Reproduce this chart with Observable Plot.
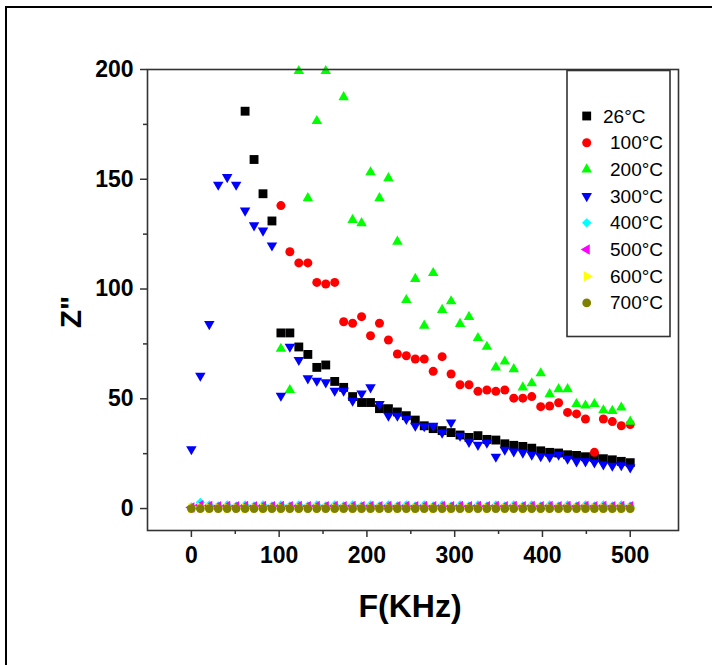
<!DOCTYPE html>
<html><head><meta charset="utf-8">
<script src="https://cdn.jsdelivr.net/npm/d3@7"></script>
<script src="https://cdn.jsdelivr.net/npm/@observablehq/plot@0.6"></script>
<style>
body{margin:0;background:#fff;}
#wrap{position:relative;width:712px;height:665px;overflow:hidden;background:#fff;}
#frame{position:absolute;left:5px;top:6px;width:800px;height:800px;border-left:2px solid #000;border-top:2px solid #000;pointer-events:none;}
#wrap svg{position:absolute;left:0;top:0;background:transparent;}
</style></head><body><div id="wrap"></div>
<script>
// Frequency grid (kHz)
const freq = [0,10.2,20.4,30.6,40.8,51,61.2,71.4,81.6,91.8,102,112.2,122.4,132.7,142.9,153.1,163.3,173.5,183.7,193.9,204.1,214.3,224.5,234.7,244.9,255.1,265.3,275.5,285.7,295.9,306.1,316.3,326.5,336.7,346.9,357.1,367.3,377.6,387.8,398,408.2,418.4,428.6,438.8,449,459.2,469.4,479.6,489.8,500];

// Z'' values per temperature (null = not shown)
const z26 = [null,null,null,null,null,null,181,159,143.4,131,80,80,73.6,70.2,64.3,65.4,57.9,55.2,51,48.3,48.3,45.5,45.5,44,42.3,40.3,37.7,36.4,35.5,34.6,33.5,32.4,33.2,31.5,31.2,29.5,28.8,28.3,27.5,26.3,25.6,25.3,24.5,24.2,23.6,23.2,22.7,22.2,21.5,20.9];
const z100 = [null,null,null,null,null,null,null,null,null,null,138,117,111.9,111.9,103,102.3,103,85.1,84.4,87.4,78.7,84.4,76.8,70.4,69.6,68.1,68.1,62.5,69.2,61.3,56.4,56.4,53.4,54,53.4,54,50.3,50.3,51,46.4,46.7,48.2,43.8,43.1,40.8,25.6,40.8,39.6,37.7,38.3];
const z200 = [null,null,null,null,null,null,null,null,null,null,72.8,54,199.3,141.4,176.5,199.3,null,187.4,131.5,130,153.2,141.4,150.5,121.6,95,104.6,83.3,107.3,90.5,94.4,84.1,87.3,77.7,73.7,64.3,67,63.5,55.2,57.1,61.6,52.1,54.4,54.4,47.6,46.9,47.6,44.8,44.5,46,39.6];
const z300 = [27,60.5,84,147.5,151,147.5,135.7,129,126.6,119.8,51.4,73.7,67.7,59.3,58.2,57.5,53.7,53.7,49.1,52.4,55.2,47.6,42.3,42.3,40.8,37.7,37.5,37.7,34.6,39.2,33.2,30.4,29,30,23.6,26.8,26,25.5,24.5,23.8,23.5,24.5,22.7,21.5,21.5,21,20.1,19.5,19.7,18.7];
const z400 = [0.8,2.8,1.6,1.2,1.6,1.2,1.6,1.2,1.6,1.2,1.6,1.2,1.6,1.2,1.6,1.2,1.6,1.2,1.6,1.2,1.6,1.2,1.6,1.2,1.6,1.2,1.6,1.2,1.6,1.2,1.6,1.2,1.6,1.2,1.6,1.2,1.6,1.2,1.6,1.2,1.6,1.2,1.6,1.2,1.6,1.2,1.6,1.2,1.6,1.2];
const z500 = [0.5,1.5,1.2,1,1.2,1,1.2,1,1.2,1,1.2,1,1.2,1,1.2,1,1.2,1,1.2,1,1.2,1,1.2,1,1.2,1,1.2,1,1.2,1,1.2,1,1.2,1,1.2,1,1.2,1,1.2,1,1.2,1,1.2,1,1.2,1,1.2,1,1.2,1];
const z600 = [0.3,0.5,0.3,0.3,0.3,0.3,0.3,0.3,0.3,0.3,0.3,0.3,0.3,0.3,0.3,0.3,0.3,0.3,0.3,0.3,0.3,0.3,0.3,0.3,0.3,0.3,0.3,0.3,0.3,0.3,0.3,0.3,0.3,0.3,0.3,0.3,0.3,0.3,0.3,0.3,0.3,0.3,0.3,0.3,0.3,0.3,0.3,0.3,0.3,0.3];
const z700 = [0,0,0,0,0,0,0,0,0,0,0,0,0,0,0,0,0,0,0,0,0,0,0,0,0,0,0,0,0,0,0,0,0,0,0,0,0,0,0,0,0,0,0,0,0,0,0,0,0,0];

const seriesNames = ["26°C","100°C","200°C","300°C","400°C","500°C","600°C","700°C"];
const seriesColors = ["#000000","#ff0000","#00ff00","#0000ff","#00ffff","#ff00ff","#ffff00","#808000"];
const xTicks = [0,100,200,300,400,500];
const xMinor = [50,150,250,350,450];
const yTicks = [0,50,100,150,200];
const yMinor = [25,75,125,175];

const sqrt3 = Math.sqrt(3);
function tri(dir){
  return {draw(ctx,size){
    const y = -Math.sqrt(size/(sqrt3*3));
    let pts=[[0,2*y],[-sqrt3*y,-y],[sqrt3*y,-y]];
    if(dir==="down") pts=pts.map(([a,b])=>[a,-b]);
    if(dir==="right") pts=pts.map(([a,b])=>[-b,a]);
    if(dir==="left") pts=pts.map(([a,b])=>[b,a]);
    ctx.moveTo(pts[0][0],pts[0][1]); ctx.lineTo(pts[1][0],pts[1][1]); ctx.lineTo(pts[2][0],pts[2][1]); ctx.closePath();
  }};
}
const symbols = [d3.symbolSquare, d3.symbolCircle, tri("up"), tri("down"), d3.symbolDiamond2, tri("left"), tri("right"), d3.symbolCircle];
const radii = [5,4.5,3.9,3.9,4.2,3.9,3.9,4.4];
const zs = [z26,z100,z200,z300,z400,z500,z600,z700];

const marks = [];
zs.forEach((z,i)=>{
  const rows = [];
  z.forEach((v,k)=>{ if(v!=null) rows.push({F:freq[k], Z:v}); });
  marks.push(Plot.dot(rows,{x:"F",y:"Z",symbol:symbols[i],r:radii[i],fill:seriesColors[i],stroke:"none"}));
});

const axisStyle = {stroke:"#333", strokeWidth:1.5, fontSize:23, fontWeight:"bold", fill:"#000"};
marks.push(
  Plot.frame({stroke:"#333", strokeWidth:1.6}),
  Plot.axisX({ticks:xTicks, tickSize:7, tickPadding:9, ...axisStyle, label:null}),
  Plot.axisX({ticks:xMinor, tickSize:4, tickFormat:()=>"", stroke:"#333", strokeWidth:1.5, label:null}),
  Plot.axisY({ticks:yTicks, tickSize:7, tickPadding:7, ...axisStyle, label:null}),
  Plot.axisY({ticks:yMinor, tickSize:4, tickFormat:()=>"", stroke:"#333", strokeWidth:1.5, label:null})
);

const chart = Plot.plot({
  width:712, height:665,
  marginLeft:147, marginRight:34, marginTop:69, marginBottom:135,
  style:{fontFamily:"'Liberation Sans', Arial, sans-serif", fontSize:"23px", background:"transparent"},
  x:{domain:[-50,555], label:null},
  y:{domain:[-10,200], label:null},
  marks
});

const wrap = document.getElementById("wrap");
wrap.appendChild(chart);
const fr = document.createElement("div"); fr.id="frame"; wrap.appendChild(fr);

const svg = d3.select(chart);
const FONT = "'Liberation Sans', Arial, sans-serif";
// axis titles
svg.append("text").attr("x",410).attr("y",606).attr("text-anchor","middle").attr("dominant-baseline","central")
  .attr("font-family",FONT).attr("font-weight","bold").attr("font-size",32).attr("fill","#000").text("F(KHz)");
svg.append("text").attr("transform","translate(70,312) rotate(-90)").attr("text-anchor","middle").attr("dominant-baseline","central")
  .attr("font-family",FONT).attr("font-weight","bold").attr("font-size",30).attr("fill","#000").text('Z"');

// legend
const lg = svg.append("g");
lg.append("rect").attr("x",567).attr("y",70.5).attr("width",103).attr("height",266).attr("fill","#fff").attr("stroke","#333").attr("stroke-width",1.6);
seriesNames.forEach((name,i)=>{
  const cy = 116 + i*26.7;
  lg.append("path").attr("transform",`translate(586.7,${cy})`)
    .attr("d", d3.symbol().type(symbols[i]).size(Math.PI*radii[i]*radii[i])())
    .attr("fill",seriesColors[i]);
  lg.append("text").attr("x", i===0?603:610).attr("y",cy).attr("dominant-baseline","central").attr("text-anchor","start")
    .attr("font-family",FONT).attr("font-size",19).attr("fill","#000").text(name);
});
</script></body></html>
